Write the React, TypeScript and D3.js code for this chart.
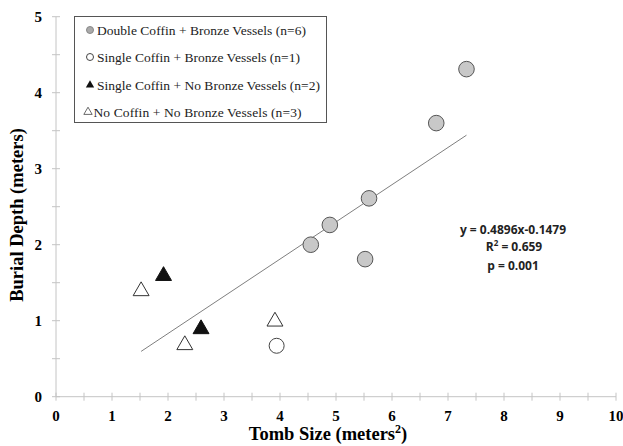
import { useEffect, useRef } from "react";
import * as d3 from "d3";

// tomb size (m²) and burial depth (m)
const doubleBronzeX = [4.55, 4.89, 5.52, 5.59, 6.79, 7.33];
const doubleBronzeY = [2.0, 2.26, 1.81, 2.61, 3.6, 4.31];
const singleBronzeX = [3.94];
const singleBronzeY = [0.67];
const singleNoneX = [1.92, 2.59];
const singleNoneY = [1.59, 0.89];
const noneNoneX = [1.52, 2.3, 3.91];
const noneNoneY = [1.39, 0.68, 0.99];

const legendLabels = [
  "Double Coffin + Bronze Vessels (n=6)",
  "Single Coffin + Bronze Vessels (n=1)",
  "Single Coffin + No Bronze Vessels (n=2)",
  "No Coffin + No Bronze Vessels (n=3)",
];

const slope = 0.4896;
const intercept = -0.1479;
const xTicks = [0, 1, 2, 3, 4, 5, 6, 7, 8, 9, 10];
const yTicks = [0, 1, 2, 3, 4, 5];

const W = 623;
const H = 446;
const serif = "'Liberation Serif', 'Times New Roman', serif";

export default function App() {
  const ref = useRef<SVGSVGElement>(null);

  useEffect(() => {
    if (!ref.current) return;
    const svg = d3.select(ref.current);
    svg.selectAll("*").remove();

    const x = d3.scaleLinear().domain([0, 10]).range([56, 616]);
    const y = d3.scaleLinear().domain([0, 5]).range([396.7, 16.7]);
    const axisColor = "#c4c4c4";

    // axis lines
    svg.append("line")
      .attr("x1", x(0)).attr("x2", x(10))
      .attr("y1", y(0)).attr("y2", y(0))
      .attr("stroke", axisColor);
    svg.append("line")
      .attr("x1", x(0)).attr("x2", x(0))
      .attr("y1", y(0)).attr("y2", y(5))
      .attr("stroke", axisColor);

    // cross ticks, major and half-unit minor
    const xMinor = d3.range(0, 10.01, 0.5);
    svg.append("g").selectAll("line").data(xMinor).join("line")
      .attr("x1", (d) => x(d)).attr("x2", (d) => x(d))
      .attr("y1", y(0) - 4).attr("y2", y(0) + 4)
      .attr("stroke", axisColor);
    const yMinor = d3.range(0, 5.01, 0.5);
    svg.append("g").selectAll("line").data(yMinor).join("line")
      .attr("x1", x(0) - 4).attr("x2", x(0) + 4)
      .attr("y1", (d) => y(d)).attr("y2", (d) => y(d))
      .attr("stroke", axisColor);

    svg.append("g").selectAll("text").data(xTicks).join("text")
      .attr("x", (d) => x(d)).attr("y", y(0) + 24)
      .attr("text-anchor", "middle")
      .attr("font-family", serif).attr("font-weight", "bold").attr("font-size", 15)
      .text((d) => d);
    svg.append("g").selectAll("text").data(yTicks).join("text")
      .attr("x", 42).attr("y", (d) => y(d) + 5)
      .attr("text-anchor", "end")
      .attr("font-family", serif).attr("font-weight", "bold").attr("font-size", 15)
      .text((d) => d);

    // axis titles
    const xt = svg.append("text")
      .attr("x", 328).attr("y", 440)
      .attr("text-anchor", "middle")
      .attr("font-family", serif).attr("font-weight", "bold").attr("font-size", 18.5);
    xt.append("tspan").text("Tomb Size (meters");
    xt.append("tspan").attr("font-size", 12).attr("dy", -7).text("2");
    xt.append("tspan").attr("dy", 7).text(")");

    svg.append("text")
      .attr("transform", "translate(23,215) rotate(-90)")
      .attr("text-anchor", "middle")
      .attr("font-family", serif).attr("font-weight", "bold").attr("font-size", 18.5)
      .text("Burial Depth (meters)");

    // regression line over the data's x range
    const allX = [...doubleBronzeX, ...singleBronzeX, ...singleNoneX, ...noneNoneX];
    const [x0, x1] = d3.extent(allX) as [number, number];
    svg.append("line")
      .attr("x1", x(x0)).attr("y1", y(slope * x0 + intercept))
      .attr("x2", x(x1)).attr("y2", y(slope * x1 + intercept))
      .attr("stroke", "#7f7f7f").attr("stroke-width", 1);

    const tri = d3.symbol().type(d3.symbolTriangle).size(110);
    const zip = (xs: number[], ys: number[]) => xs.map((v, i) => [v, ys[i]]);

    svg.append("g").selectAll("path").data(zip(noneNoneX, noneNoneY)).join("path")
      .attr("d", tri)
      .attr("transform", (d) => `translate(${x(d[0])},${y(d[1])})`)
      .attr("fill", "white").attr("stroke", "#333").attr("stroke-width", 1);
    svg.append("g").selectAll("path").data(zip(singleNoneX, singleNoneY)).join("path")
      .attr("d", tri)
      .attr("transform", (d) => `translate(${x(d[0])},${y(d[1])})`)
      .attr("fill", "#111").attr("stroke", "#111");
    svg.append("g").selectAll("circle").data(zip(singleBronzeX, singleBronzeY)).join("circle")
      .attr("cx", (d) => x(d[0])).attr("cy", (d) => y(d[1])).attr("r", 7.5)
      .attr("fill", "white").attr("stroke", "#444");
    svg.append("g").selectAll("circle").data(zip(doubleBronzeX, doubleBronzeY)).join("circle")
      .attr("cx", (d) => x(d[0])).attr("cy", (d) => y(d[1])).attr("r", 7.8)
      .attr("fill", "#c8c8c8").attr("stroke", "#555");

    // equation
    const eq = svg.append("g")
      .attr("font-family", "'Open Sans', sans-serif").attr("font-weight", "bold")
      .attr("font-size", 12).attr("fill", "#222").attr("text-anchor", "middle");
    eq.append("text").attr("x", 513).attr("y", 234).text(`y = ${slope}x${intercept}`);
    const r2 = eq.append("text").attr("x", 514).attr("y", 251);
    r2.append("tspan").text("R");
    r2.append("tspan").attr("font-size", 8).attr("dy", -5).text("2");
    r2.append("tspan").attr("dy", 5).text(" = 0.659");
    eq.append("text").attr("x", 513).attr("y", 270).text("p = 0.001");

    // legend
    const lg = svg.append("g");
    lg.append("rect")
      .attr("x", 74.5).attr("y", 16.5).attr("width", 252).attr("height", 106)
      .attr("fill", "white").attr("stroke", "#555");
    const rowY = [30, 57, 85, 112];
    const textX = [97, 97, 97, 93.5];
    const textW = [209, 203, 223, 208];
    const sym = d3.symbol().type(d3.symbolTriangle).size(30);
    lg.append("circle").attr("cx", 90).attr("cy", rowY[0]).attr("r", 3.5)
      .attr("fill", "#aaa").attr("stroke", "#888");
    lg.append("circle").attr("cx", 90).attr("cy", rowY[1]).attr("r", 3.5)
      .attr("fill", "white").attr("stroke", "#444");
    lg.append("path").attr("d", sym).attr("transform", `translate(90,${rowY[2]})`)
      .attr("fill", "#111");
    lg.append("path").attr("d", sym).attr("transform", `translate(88,${rowY[3]})`)
      .attr("fill", "white").attr("stroke", "#444").attr("stroke-width", 0.8);
    lg.selectAll("text.lbl").data(legendLabels).join("text")
      .attr("class", "lbl")
      .attr("x", (_, i) => textX[i]).attr("y", (_, i) => rowY[i] + 4.5)
      .attr("textLength", (_, i) => textW[i])
      .attr("lengthAdjust", "spacing")
      .attr("font-family", serif).attr("font-size", 13.5).attr("fill", "#222")
      .text((d) => d);
  }, []);

  return (
    <svg
      ref={ref}
      width={W}
      height={H}
      style={{ position: "absolute", left: 0, top: 0, background: "white" }}
    />
  );
}
